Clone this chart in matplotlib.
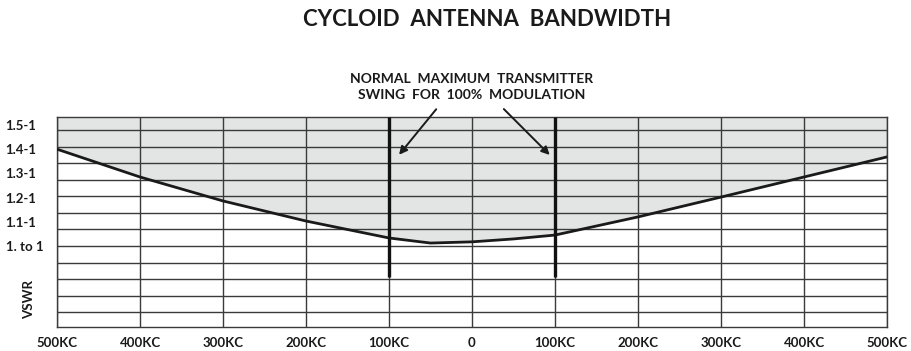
import numpy as np
import matplotlib.pyplot as plt

plt.rcParams['font.family'] = ['Lato', 'DejaVu Sans']

# frequency offset from carrier (kc) and measured VSWR
freq = [-500, -400, -300, -200, -100, -50, 0, 50, 100, 200, 300, 400, 500]
vswr = [1.40, 1.285, 1.186, 1.103, 1.033, 1.012, 1.017, 1.029, 1.045, 1.12, 1.202, 1.285, 1.368]

xticks = [-500, -400, -300, -200, -100, 0, 100, 200, 300, 400, 500]
xlabels = ['500KC', '400KC', '300KC', '200KC', '100KC', '0', '100KC', '200KC', '300KC', '400KC', '500KC']
yticks = [1.5, 1.4, 1.3, 1.2, 1.1, 1.0]
ylabels = ['1.5-1', '1.4-1', '1.3-1', '1.2-1', '1.1-1', '1. to 1']

swing = 100        # +/- kc for 100% modulation
swing_low = 0.87   # bottom end of the swing markers

ymin, ymax = 0.665, 1.533
paper_step = 0.0684  # ruling of the chart paper

fig = plt.figure(figsize=(9.12, 3.51), dpi=100)
ax = fig.add_axes([57/912, 1 - 327/351, 830/912, 210/351])
ax.set_xlim(-500, 500)
ax.set_ylim(ymin, ymax)

# chart paper ruling
for k in range(-4, 8):
    ax.axhline(1.0 + k*paper_step, color='#3a3a3a', lw=1.0, zorder=2)
for x in xticks:
    ax.axvline(x, color='#3a3a3a', lw=1.0, zorder=2)

# shaded region above the curve
ax.fill_between(freq, vswr, ymax, color='#e3e5e5', lw=0, zorder=1)
ax.plot(freq, vswr, color='#1a1a1a', lw=2.0, zorder=3)

# transmitter swing markers
ax.vlines([-swing, swing], swing_low, ymax, color='#111111', lw=2.4, zorder=4)

ax.text(0, 1.657, 'NORMAL  MAXIMUM  TRANSMITTER\nSWING  FOR  100%  MODULATION',
        ha='center', va='center', fontsize=10, fontweight='bold',
        linespacing=1.4, color='#1a1a1a', clip_on=False)
ax.annotate('', xy=(-90, 1.368), xytext=(-41, 1.574),
            arrowprops=dict(arrowstyle='-|>', color='#1a1a1a', lw=1.4, mutation_scale=12),
            annotation_clip=False)
ax.annotate('', xy=(96, 1.368), xytext=(36, 1.574),
            arrowprops=dict(arrowstyle='-|>', color='#1a1a1a', lw=1.4, mutation_scale=12),
            annotation_clip=False)

ax.set_xticks(xticks)
ax.set_xticklabels(xlabels, fontsize=9.5, fontweight='bold', color='#1a1a1a')
ax.set_yticks(yticks)
ax.set_yticklabels(ylabels, fontsize=9.5, fontweight='bold', color='#1a1a1a', ha='left')
ax.tick_params(axis='x', length=0, pad=7)
ax.tick_params(axis='y', length=0, pad=37)

ax.text(-0.034, 0.777, 'VSWR', transform=ax.get_yaxis_transform(), rotation=90,
        ha='center', va='center', fontsize=9.5, fontweight='bold', color='#1a1a1a')

for s in ax.spines.values():
    s.set_color('#3a3a3a')
    s.set_linewidth(1.0)

fig.text(487/912, 1 - 20/351, 'CYCLOID  ANTENNA  BANDWIDTH', ha='center', va='center',
         fontsize=16, fontweight='bold', color='#1a1a1a')

plt.savefig('out.png', dpi=100)
